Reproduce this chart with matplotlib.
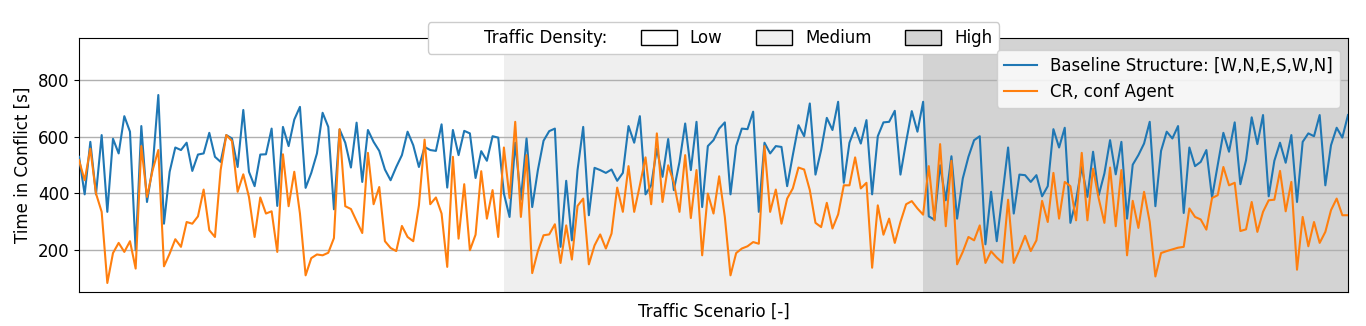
import numpy as np
import matplotlib
matplotlib.use("Agg")
import matplotlib.pyplot as plt
from matplotlib.patches import Patch

baseline = [529, 396, 582, 396, 606, 334, 593, 541, 673, 618, 198, 638, 369, 493, 748, 292, 476, 562, 553, 579,
            479, 537, 541, 614, 529, 511, 606, 594, 493, 695, 476, 425, 537, 538, 629, 355, 635, 567,
            661, 706, 419, 472, 541, 685, 635, 343, 626, 579, 491, 650, 440, 624, 582, 550, 484, 446,
            493, 535, 618, 570, 493, 564, 553, 550, 644, 420, 624, 535, 621, 612, 454, 549, 515, 602, 597, 399, 316,
            579, 377, 594, 351, 482, 586, 620, 629, 210, 444, 233, 482, 635, 322, 490, 482, 472,
            484, 444, 472, 638, 579, 673, 396, 428, 558, 458, 592, 411, 511, 647, 482, 653, 351, 567, 588,
            629, 651, 396, 567, 629, 627, 689, 334, 579, 541, 567, 564, 425, 535, 641, 602, 718, 466,
            553, 667, 624, 724, 437, 579, 632, 576, 659, 396, 602, 651, 653, 692, 466, 582, 691, 618, 724, 318,
            306, 499, 375, 531, 310, 452, 529, 588, 602, 219, 405, 230, 393, 562, 328, 466, 464, 440,
            464, 389, 425, 627, 562, 632, 295, 375, 493, 387, 547, 393, 470, 588, 467, 582, 310, 501,
            535, 576, 653, 354, 550, 618, 594, 638, 330, 562, 496, 511, 553, 385, 499, 614, 547, 651, 432,
            517, 669, 574, 677, 389, 515, 579, 508, 606, 369, 582, 612, 602, 677, 428, 570, 632, 597, 677]

cr_agent = [517, 446, 558, 399, 334, 82, 188, 224, 192, 230, 133, 567, 387, 482, 553, 141, 186, 237, 210, 298,
            292, 318, 413, 269, 245, 482, 606, 585, 405, 467, 387, 245, 385, 328, 336, 192, 538, 354,
            476, 328, 109, 170, 183, 180, 189, 241, 627, 354, 344, 301, 259, 543, 361, 422, 230, 206,
            195, 284, 245, 230, 357, 590, 361, 385, 328, 139, 529, 239, 432, 198, 253, 478, 310, 411, 245, 562, 383,
            653, 316, 535, 117, 195, 251, 254, 290, 153, 286, 165, 355, 381, 148, 215, 254, 204,
            257, 420, 334, 496, 334, 428, 527, 361, 612, 369, 499, 437, 334, 535, 312, 482, 180, 399, 328,
            460, 316, 109, 188, 204, 212, 227, 221, 567, 334, 413, 292, 381, 417, 491, 484, 411, 295,
            280, 366, 275, 325, 428, 428, 527, 417, 437, 136, 357, 253, 310, 224, 298, 361, 372, 346, 324, 496,
            304, 574, 283, 515, 148, 192, 245, 233, 286, 153, 194, 172, 154, 377, 153, 198, 249, 195,
            233, 373, 298, 472, 310, 440, 425, 304, 543, 304, 487, 381, 295, 491, 283, 482, 180, 373,
            277, 405, 298, 105, 188, 195, 201, 207, 210, 346, 316, 307, 271, 383, 393, 493, 428, 437, 266,
            272, 369, 263, 334, 375, 377, 479, 336, 440, 129, 316, 212, 298, 224, 263, 340, 381, 322, 322]

density_labels = ["Low", "Medium", "High"]
density_counts = [75, 74, 76]
density_colors = ["white", "#efefef", "#d3d3d3"]

series_labels = ["Baseline Structure: [W,N,E,S,W,N]", "CR, conf Agent"]

plt.rcParams['font.family'] = ['DejaVu Sans']
fig = plt.figure(figsize=(13.66, 3.26), dpi=100)
ax = fig.add_axes([79/1366, 1 - 292/326, (1348 - 79)/1366, (292 - 38)/326])

x = np.arange(len(baseline))
start = 0
for cnt, col in zip(density_counts, density_colors):
    ax.axvspan(start, start + cnt, color=col, zorder=0, lw=0)
    start += cnt

ax.yaxis.grid(True, color="#b0b0b0", lw=1.0, zorder=1)
ax.set_axisbelow(True)
l1, = ax.plot(x, baseline, color="tab:blue", lw=1.5, label=series_labels[0], zorder=3)
l2, = ax.plot(x, cr_agent, color="tab:orange", lw=1.5, label=series_labels[1], zorder=3)

ax.set_xlim(0, len(baseline) - 1)
ax.set_ylim(50, 950)
ax.set_yticks([200, 400, 600, 800])
ax.set_xticks([])
ax.tick_params(axis='y', labelsize=12)
ax.set_xlabel("Traffic Scenario [-]", fontsize=12, labelpad=8)
ax.set_ylabel("Time in Conflict [s]", fontsize=12)

handles = [Patch(facecolor='none', edgecolor='none')] + \
          [Patch(facecolor=c, edgecolor='black') for c in density_colors]
labels = ["Traffic Density:"] + density_labels
leg1 = ax.legend(handles, labels, loc='center', bbox_to_anchor=(0.5, 1.0), ncol=4, fontsize=12,
                 framealpha=1.0, handlelength=2.15, handleheight=1.0)
ax.add_artist(leg1)
ax.legend(handles=[l1, l2], loc='upper right', bbox_to_anchor=(1.0, 0.985), fontsize=12)

fig.savefig("out.png", dpi=100)
